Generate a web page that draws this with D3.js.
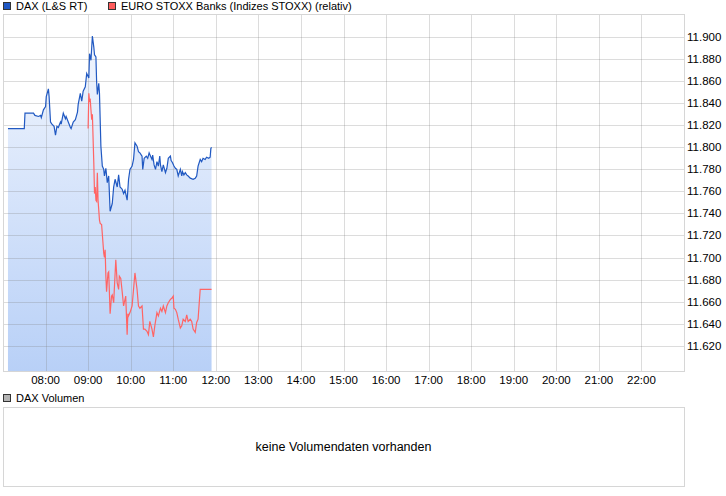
<!DOCTYPE html>
<html>
<head>
<meta charset="utf-8">
<script src="https://cdn.jsdelivr.net/npm/d3@7"></script>
<style>
  body { margin: 0; background: #fff; }
  text { font-family: "Liberation Sans", Arial, sans-serif; fill: #000; }
</style>
</head>
<body>
<script>
var width = 726, height = 496;

// DAX (L&S RT) intraday
var daxTimes = ["07:07","07:30","07:31","07:43","07:45","07:50","07:53","07:54","07:57","08:00",
  "08:01","08:04","08:05","08:07","08:09","08:12","08:14","08:16","08:18","08:21",
  "08:22","08:25","08:28","08:29","08:32","08:35","08:36","08:39","08:42","08:45",
  "08:46","08:49","08:51","08:53","08:56","08:58","09:01","09:02","09:04","09:06",
  "09:08","09:09","09:11","09:12","09:13","09:15","09:16","09:18","09:20","09:22",
  "09:23","09:25","09:27","09:29","09:31","09:34","09:36","09:38","09:41","09:43",
  "09:45","09:48","09:50","09:52","09:55","09:57","09:59","10:02","10:04","10:06",
  "10:09","10:11","10:13","10:16","10:17","10:19","10:22","10:24","10:26","10:28",
  "10:30","10:31","10:33","10:35","10:37","10:39","10:41","10:42","10:44","10:46",
  "10:49","10:51","10:53","10:56","10:57","10:59","11:01","11:03","11:05","11:07",
  "11:10","11:12","11:13","11:15","11:17","11:19","11:21","11:24","11:28","11:31",
  "11:33","11:35","11:38","11:40","11:42","11:45","11:47","11:50","11:52","11:53","11:54"];
var daxValues = [11817,11817,11831,11831,11829,11828,11829,11827,11834,11837,
  11846,11853,11846,11823,11821,11819,11811,11819,11818,11823,
  11821,11831,11826,11828,11823,11818,11817,11823,11825,11832,
  11839,11849,11842,11851,11855,11867,11863,11885,11879,11901,
  11891,11884,11882,11859,11848,11858,11849,11801,11783,11780,
  11774,11781,11768,11774,11742,11749,11764,11771,11764,11775,
  11764,11762,11758,11761,11752,11771,11780,11783,11789,11804,
  11801,11796,11795,11792,11780,11790,11792,11790,11795,11792,
  11789,11793,11784,11780,11787,11783,11792,11784,11778,11784,
  11777,11781,11790,11792,11788,11786,11783,11781,11780,11774,
  11780,11774,11778,11775,11777,11775,11774,11772,11771,11772,
  11774,11783,11789,11787,11790,11789,11791,11790,11791,11799,11800];

// EURO STOXX Banks (Indizes STOXX), relativ zum DAX
var bankTimes = ["09:00","09:01","09:02","09:03","09:04","09:05","09:06","09:08","09:09","09:10",
  "09:11","09:12","09:13","09:14","09:16","09:17","09:19","09:22","09:23","09:24",
  "09:25","09:26","09:28","09:29","09:31","09:33","09:34","09:36","09:39","09:41",
  "09:43","09:44","09:46","09:48","09:50","09:53","09:55","09:56","09:57","09:59",
  "10:02","10:04","10:06","10:09","10:11","10:13","10:16","10:18","10:20","10:23",
  "10:25","10:27","10:30","10:32","10:34","10:37","10:39","10:42","10:44","10:46",
  "10:49","10:51","10:53","10:56","10:58","11:00","11:01","11:03","11:05","11:07",
  "11:10","11:12","11:14","11:17","11:19","11:21","11:24","11:26","11:28","11:31",
  "11:33","11:35","11:38","11:53","11:54"];
var bankValues = [11817,11849,11842,11843,11834,11825,11830,11786,11758,11764,
  11752,11751,11777,11752,11734,11731,11730,11704,11700,11707,
  11683,11669,11686,11687,11649,11665,11666,11659,11698,11677,
  11671,11683,11681,11669,11656,11665,11630,11649,11647,11650,
  11656,11671,11686,11671,11656,11654,11656,11635,11635,11633,
  11630,11642,11635,11628,11638,11650,11647,11654,11651,11656,
  11650,11656,11659,11662,11663,11665,11654,11653,11650,11644,
  11636,11638,11644,11642,11648,11642,11644,11642,11635,11632,
  11641,11644,11671,11671,11671];

var hourTicks = ["08:00","09:00","10:00","11:00","12:00","13:00","14:00","15:00",
  "16:00","17:00","18:00","19:00","20:00","21:00","22:00"];
var priceTicks = [11620,11640,11660,11680,11700,11720,11740,11760,11780,11800,11820,11840,11860,11880,11900];

var parseTime = d3.timeParse("%H:%M");
var de = d3.formatLocale({decimal: ",", thousands: ".", grouping: [3], currency: ["", " €"]});
var fmt = de.format(",d");

var dax = daxTimes.map(function(t, i) { return {t: parseTime(t), v: daxValues[i]}; });
var bank = bankTimes.map(function(t, i) { return {t: parseTime(t), v: bankValues[i]}; });

var plot = {left: 3, right: 684, top: 14, bottom: 371};

var svg = d3.select("body").append("svg")
    .attr("width", width)
    .attr("height", height);

var x = d3.scaleTime()
    .domain([parseTime("07:00"), parseTime("23:00")])
    .range([plot.left, plot.right]);

var y = d3.scaleLinear()
    .domain([11597, 11921])
    .range([plot.bottom, plot.top]);

// gradient for the area under the DAX line
var grad = svg.append("defs").append("linearGradient")
    .attr("id", "areaGrad")
    .attr("gradientUnits", "userSpaceOnUse")
    .attr("x1", 0).attr("x2", 0)
    .attr("y1", plot.top).attr("y2", plot.bottom);
grad.append("stop").attr("offset", "0%").attr("stop-color", "#f5f8fe");
grad.append("stop").attr("offset", "100%").attr("stop-color", "#b8d0f7");

var area = d3.area()
    .x(function(d) { return x(d.t); })
    .y0(plot.bottom)
    .y1(function(d) { return y(d.v); });

svg.append("path")
    .datum(dax)
    .attr("fill", "url(#areaGrad)")
    .attr("d", area);

// grid
var grid = svg.append("g").attr("stroke", "rgba(128,128,128,0.28)").attr("shape-rendering", "crispEdges");
grid.selectAll("line.v")
    .data(hourTicks)
    .enter().append("line")
    .attr("x1", function(d) { return Math.round(x(parseTime(d))) + 0.5; })
    .attr("x2", function(d) { return Math.round(x(parseTime(d))) + 0.5; })
    .attr("y1", plot.top).attr("y2", plot.bottom);
grid.selectAll("line.h")
    .data(priceTicks)
    .enter().append("line")
    .attr("x1", plot.left).attr("x2", plot.right)
    .attr("y1", function(d) { return Math.round(y(d)) + 0.5; })
    .attr("y2", function(d) { return Math.round(y(d)) + 0.5; });

svg.append("rect")
    .attr("x", plot.left + 0.5).attr("y", plot.top + 0.5)
    .attr("width", plot.right - plot.left).attr("height", plot.bottom - plot.top)
    .attr("fill", "none").attr("stroke", "#d6d6d6").attr("shape-rendering", "crispEdges");

var line = d3.line()
    .x(function(d) { return x(d.t); })
    .y(function(d) { return y(d.v); });

svg.append("path")
    .datum(bank)
    .attr("fill", "none")
    .attr("stroke", "#ff6464")
    .attr("stroke-width", 1.2)
    .attr("d", line);

svg.append("path")
    .datum(dax)
    .attr("fill", "none")
    .attr("stroke", "#2159c2")
    .attr("stroke-width", 1.2)
    .attr("d", line);

// right axis labels
svg.append("g").selectAll("text")
    .data(priceTicks)
    .enter().append("text")
    .attr("x", 687)
    .attr("y", function(d) { return y(d); })
    .attr("dy", "0.35em")
    .attr("font-size", 11.5)
    .text(function(d) { return fmt(d); });

// time labels
svg.append("g").selectAll("text")
    .data(hourTicks)
    .enter().append("text")
    .attr("x", function(d) { return x(parseTime(d)); })
    .attr("y", 380)
    .attr("dy", "0.35em")
    .attr("text-anchor", "middle")
    .attr("font-size", 11.5)
    .text(function(d) { return d; });

// legend
var legend = [
  {label: "DAX (L&S RT)", color: "#1f57c3", x: 3},
  {label: "EURO STOXX Banks (Indizes STOXX) (relativ)", color: "#ff5c5c", x: 108}
];
var lg = svg.append("g").selectAll("g").data(legend).enter().append("g");
lg.append("rect")
    .attr("x", function(d) { return d.x + 0.5; }).attr("y", 2.5)
    .attr("width", 7).attr("height", 7)
    .attr("fill", function(d) { return d.color; })
    .attr("stroke", "#333");
lg.append("text")
    .attr("x", function(d) { return d.x + 13; })
    .attr("y", 6)
    .attr("dy", "0.35em")
    .attr("font-size", 11)
    .text(function(d) { return d.label; });

// volume panel
svg.append("rect")
    .attr("x", 3.5).attr("y", 394.5).attr("width", 7).attr("height", 7)
    .attr("fill", "#b4b4b4").attr("stroke", "#333");
svg.append("text")
    .attr("x", 16).attr("y", 398).attr("dy", "0.35em")
    .attr("font-size", 11)
    .text("DAX Volumen");
svg.append("rect")
    .attr("x", plot.left + 0.5).attr("y", 407.5)
    .attr("width", plot.right - plot.left).attr("height", 79)
    .attr("fill", "none").attr("stroke", "#d6d6d6");
svg.append("text")
    .attr("x", (plot.left + plot.right) / 2).attr("y", 447).attr("dy", "0.35em")
    .attr("text-anchor", "middle")
    .attr("font-size", 12.5)
    .text("keine Volumendaten vorhanden");
</script>
</body>
</html>
